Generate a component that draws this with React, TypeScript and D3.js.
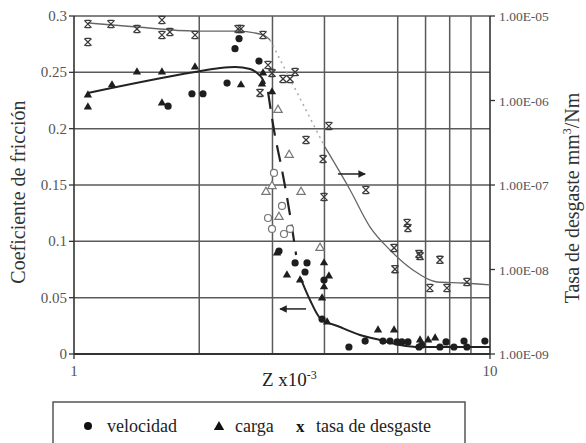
import React from 'react';
import * as d3 from 'd3';

type Pt = [number, number];

// Z x10^-3 vs. coeficiente de fricción
const velocidad: Pt[] = [
  [1.683, 0.22], [1.921, 0.231], [2.042, 0.231], [2.333, 0.2405], [2.438, 0.271], [2.493, 0.28], [2.784, 0.26],
  [3.11, 0.0914], [3.4, 0.0808], [3.632, 0.0808], [3.592, 0.0728], [3.99, 0.0657], [3.947, 0.031],
  [4.58, 0.0062], [5.01, 0.0115], [5.53, 0.0115], [5.75, 0.0115], [5.98, 0.0107], [6.14, 0.0107],
  [6.35, 0.0107], [6.75, 0.0062], [6.86, 0.008], [7.58, 0.0062], [7.84, 0.0107], [8.19, 0.0062],
  [8.66, 0.0115], [8.8, 0.0062], [9.72, 0.0115],
];
const velocidadAbierta: Pt[] = [
  [3.025, 0.1607], [3.162, 0.1314], [2.927, 0.1207], [2.992, 0.111], [3.197, 0.1065], [3.306, 0.111],
];
const carga: Pt[] = [
  [1.08, 0.2299], [1.08, 0.2192], [1.234, 0.2388], [1.417, 0.2503], [1.627, 0.2503], [1.627, 0.2228],
  [1.954, 0.2547], [2.52, 0.2388], [2.847, 0.2494], [2.83, 0.2396], [2.992, 0.2326],
  [3.076, 0.0896], [3.25, 0.0701], [3.495, 0.0657], [3.99, 0.0808], [4.1, 0.0692], [3.99, 0.0595],
  [3.947, 0.0497], [4.06, 0.0284], [5.38, 0.0213], [5.88, 0.0213], [6.79, 0.0124], [7.1, 0.0124], [7.38, 0.0142],
];
const cargaAbierta: Pt[] = [
  [3.093, 0.2166], [3.29, 0.1766], [2.894, 0.1438], [2.992, 0.149], [3.514, 0.1438], [3.11, 0.1216], [3.903, 0.0941],
];
// Z vs. tasa de desgaste (mm3/Nm)
const desgaste: Pt[] = [
  [1.08, 8.04e-6], [1.08, 4.92e-6], [1.227, 8.04e-6], [1.417, 7.02e-6], [1.627, 8.97e-6], [1.627, 5.96e-6],
  [1.7, 6.47e-6], [1.954, 5.96e-6], [2.48, 7.02e-6], [2.52, 7.02e-6], [2.847, 5.96e-6], [2.927, 2.63e-6],
  [2.992, 2.11e-6], [2.8, 1.23e-6], [3.18, 1.8e-6], [3.306, 1.8e-6], [3.4, 2.17e-6], [4.1, 4.99e-7],
  [3.612, 3.41e-7], [3.97, 2.03e-7], [3.99, 7.21e-8], [5.03, 8.73e-8], [6.32, 3.55e-8], [6.35, 3.1e-8],
  [5.88, 1.8e-8], [5.91, 1.01e-8], [6.79, 1.44e-8], [6.75, 1.53e-8], [7.58, 1.3e-8], [7.17, 6.04e-9],
  [7.88, 6.04e-9], [8.8, 7.11e-9],
];

// fitted curves
const friccionAlta: Pt[] = [
  [1.08, 0.2317], [1.954, 0.2503], [2.245, 0.2538], [2.438, 0.2547], [2.65, 0.253], [2.755, 0.2494], [2.83, 0.245], [2.88, 0.2396],
];
const friccionTransicion: Pt[] = [
  [2.927, 0.2326], [3.025, 0.1988], [3.162, 0.1633], [3.306, 0.1234], [3.419, 0.0879],
];
const friccionBaja: Pt[] = [
  [3.495, 0.0683], [3.693, 0.0479], [3.903, 0.032], [4.36, 0.024], [4.87, 0.0169], [5.44, 0.0124],
  [6.08, 0.008], [6.79, 0.0062], [10, 0.0062],
];
const desgasteAlta: Pt[] = [
  [1.08, 8.27e-6], [1.417, 7.41e-6], [1.954, 6.64e-6], [2.465, 6.64e-6], [2.847, 5.96e-6], [2.96, 5.2e-6],
];
const desgasteTransicion: Pt[] = [[2.96, 5.2e-6], [4.01, 2.82e-7]];
const desgasteBaja: Pt[] = [
  [4.01, 2.82e-7], [4.61, 8.73e-8], [5.15, 3.18e-8], [5.75, 1.7e-8], [6.53, 9.86e-9],
  [7.46, 7.11e-9], [8.61, 6.92e-9], [10, 6.56e-9],
];
const flechaDesgaste: Pt[] = [[4.31, 1.35e-7], [5.01, 1.35e-7]];
const flechaFriccion: Pt[] = [[3.612, 0.04], [3.128, 0.04]];

const friccionTicks = [0, 0.05, 0.1, 0.15, 0.2, 0.25, 0.3];
const desgasteTicks = [1e-9, 1e-8, 1e-7, 1e-6, 1e-5];
const desgasteLabels = ['1.00E-09', '1.00E-08', '1.00E-07', '1.00E-06', '1.00E-05'];
const zGrid = [2, 3, 4, 6, 7, 8, 9];
const zLabels = [1, 10];

const W = 586;
const H = 443;
const x = d3.scaleLog().domain([1, 10]).range([74, 490]);
const yF = d3.scaleLinear().domain([0, 0.3]).range([354, 16]);
const yW = d3.scaleLog().domain([1e-9, 1e-5]).range([354, 16]);

const serif = "'Liberation Serif', 'Times New Roman', serif";
const gridColor = '#5a5a5a';

const lineF = d3.line<Pt>().x(d => x(d[0])).y(d => yF(d[1])).curve(d3.curveMonotoneX);
const lineW = d3.line<Pt>().x(d => x(d[0])).y(d => yW(d[1])).curve(d3.curveMonotoneX);
const tri = d3.symbol().type(d3.symbolTriangle).size(30)() as string;

// "x" marker of the wear series: crossed lines closed at top and bottom
const xMark = (cx: number, cy: number) => {
  const s = 3.6;
  const b = 2.6;
  return `M${cx - s},${cy - s}L${cx + s},${cy + s}M${cx + s},${cy - s}L${cx - s},${cy + s}` +
    `M${cx - b},${cy - s}H${cx + b}M${cx - b},${cy + s}H${cx + b}`;
};

const txt = { fontFamily: serif };

export default function App() {
  return (
    <svg width={W} height={H} style={{ position: 'absolute', left: 0, top: 0, background: 'white', fontFamily: serif }}>
      <defs>
        <marker id="head" viewBox="0 0 10 10" refX="9" refY="5" markerWidth="5" markerHeight="5" orient="auto">
          <path d="M0,0L10,5L0,10z" fill="#222" />
        </marker>
      </defs>

      {/* grid */}
      {friccionTicks.map(t => (
        <line key={'h' + t} x1={x(1)} x2={x(10)} y1={yF(t)} y2={yF(t)} stroke={gridColor} strokeWidth={1.5} />
      ))}
      {zGrid.map(z => (
        <line key={'v' + z} x1={x(z)} x2={x(z)} y1={yF(0.3)} y2={yF(0)} stroke={gridColor} strokeWidth={1.5} />
      ))}
      <line x1={x(1)} x2={x(1)} y1={yF(0.3)} y2={yF(0)} stroke="#333" strokeWidth={1.6} />
      <line x1={x(10)} x2={x(10)} y1={yF(0.3)} y2={yF(0)} stroke="#333" strokeWidth={1.6} />
      <line x1={x(1)} x2={x(10)} y1={yF(0)} y2={yF(0)} stroke="#333" strokeWidth={1.8} />

      {/* left axis */}
      {friccionTicks.map(t => (
        <g key={'lt' + t}>
          <line x1={x(1) - 5} x2={x(1)} y1={yF(t)} y2={yF(t)} stroke="#333" strokeWidth={1.3} />
          <text style={txt} x={x(1) - 7} y={yF(t) + 5} textAnchor="end" fontSize={15} fill="#555">{t}</text>
        </g>
      ))}
      {/* right axis */}
      {desgasteTicks.map((t, i) => (
        <g key={'rt' + i}>
          <line x1={x(10)} x2={x(10) + 5} y1={yW(t)} y2={yW(t)} stroke="#333" strokeWidth={1.3} />
          <text style={txt} x={x(10) + 9} y={yW(t) + 5} fontSize={13.5} fill="#555">{desgasteLabels[i]}</text>
        </g>
      ))}
      {/* bottom axis */}
      {zLabels.map(z => (
        <g key={'bt' + z}>
          <line x1={x(z)} x2={x(z)} y1={yF(0)} y2={yF(0) + 5} stroke="#333" strokeWidth={1.3} />
          <text style={txt} x={x(z)} y={376} textAnchor="middle" fontSize={15} fill="#555">{z}</text>
        </g>
      ))}

      {/* curves */}
      <path d={lineW(desgasteAlta) || ''} fill="none" stroke="#666" strokeWidth={1.3} />
      <path d={lineW(desgasteTransicion) || ''} fill="none" stroke="#aaa" strokeWidth={1.5} strokeDasharray="2,4" />
      <path d={lineW(desgasteBaja) || ''} fill="none" stroke="#666" strokeWidth={1.3} />
      <path d={lineF(friccionAlta) || ''} fill="none" stroke="#222" strokeWidth={2} />
      <path d={lineF(friccionTransicion) || ''} fill="none" stroke="#222" strokeWidth={2.2} strokeDasharray="17,10" />
      <path d={lineF(friccionBaja) || ''} fill="none" stroke="#222" strokeWidth={2} />

      {/* arrows */}
      <path d={lineW(flechaDesgaste) || ''} stroke="#222" strokeWidth={1.5} markerEnd="url(#head)" />
      <path d={lineF(flechaFriccion) || ''} stroke="#222" strokeWidth={1.5} markerEnd="url(#head)" />

      {/* points */}
      {desgaste.map((d, i) => (
        <path key={'w' + i} d={xMark(x(d[0]), yW(d[1]))} stroke="#3a3a3a" strokeWidth={1.3} fill="none" />
      ))}
      {velocidadAbierta.map((d, i) => (
        <circle key={'vo' + i} cx={x(d[0])} cy={yF(d[1])} r={3.5} fill="white" stroke="#777" strokeWidth={1.2} />
      ))}
      {cargaAbierta.map((d, i) => (
        <path key={'co' + i} d={tri} transform={`translate(${x(d[0])},${yF(d[1])})`} fill="white" stroke="#777" strokeWidth={1.2} />
      ))}
      {velocidad.map((d, i) => (
        <circle key={'v' + i} cx={x(d[0])} cy={yF(d[1])} r={3.6} fill="#1e1e1e" />
      ))}
      {carga.map((d, i) => (
        <path key={'c' + i} d={tri} transform={`translate(${x(d[0])},${yF(d[1])})`} fill="#1e1e1e" />
      ))}

      {/* titles */}
      <text style={txt} x={262} y={386} fontSize={19} fill="#222">
        Z x10<tspan dy={-7} fontSize={12}>-3</tspan>
      </text>
      <text style={txt} transform="translate(25,192) rotate(-90)" textAnchor="middle" fontSize={20} fill="#333">
        Coeficiente de fricción
      </text>
      <text style={txt} transform="translate(579,198) rotate(-90)" textAnchor="middle" fontSize={20} fill="#333">
        Tasa de desgaste mm<tspan dy={-8} fontSize={12}>3</tspan><tspan dy={8}>/Nm</tspan>
      </text>

      {/* legend */}
      <rect x={53} y={402} width={412} height={60} fill="none" stroke="#555" strokeWidth={1.5} />
      <circle cx={88} cy={426} r={4} fill="#111" />
      <text style={txt} x={107} y={432} fontSize={18} fill="#222">velocidad</text>
      <path d={tri} transform="translate(219,427) scale(1.25)" fill="#111" />
      <text style={txt} x={235} y={432} fontSize={18} fill="#222">carga</text>
      <text style={txt} x={296} y={432} fontSize={17} fontWeight="bold" fill="#111">x</text>
      <text style={txt} x={316} y={432} fontSize={18} fill="#222">tasa de desgaste</text>
    </svg>
  );
}
